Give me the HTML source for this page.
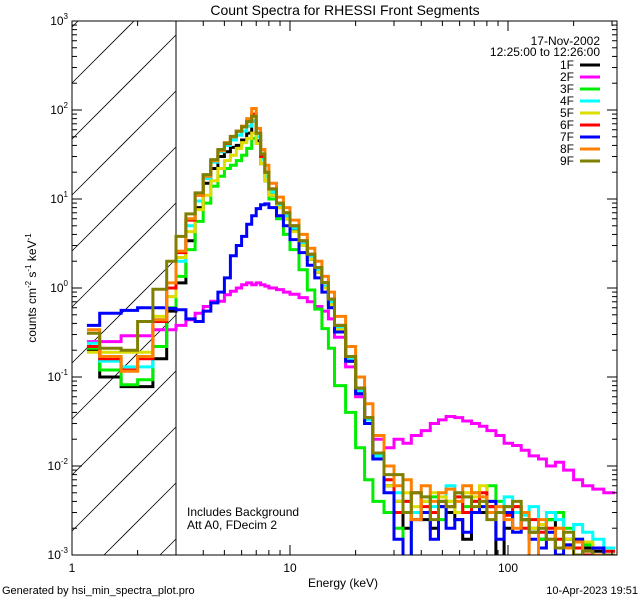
<!DOCTYPE html>
<html><head><meta charset="utf-8">
<style>
html,body{margin:0;padding:0;background:#fff;width:640px;height:600px;overflow:hidden;}
svg{display:block;font-family:"Liberation Sans",sans-serif;}
</style></head>
<body>
<svg id="chart" width="640" height="600" viewBox="0 0 640 600" xmlns="http://www.w3.org/2000/svg">
<rect x="0" y="0" width="640" height="600" fill="#fff"/>
<text x="345" y="15" font-size="14" text-anchor="middle">Count Spectra for RHESSI Front Segments</text>
<defs><clipPath id="plotclip"><rect x="72" y="21" width="545" height="534"/></clipPath></defs>
<g id="hatch"></g>
<line x1="176" y1="21" x2="176" y2="555" stroke="#000" stroke-width="1"/>
<g id="series" clip-path="url(#plotclip)"></g>
<rect x="72" y="21" width="545" height="534" fill="none" stroke="#000" stroke-width="1"/>
<g id="axes"></g>
<text x="343" y="587" font-size="12" text-anchor="middle">Energy (keV)</text>
<text transform="translate(36,288) rotate(-90)" font-size="12" text-anchor="middle">counts cm<tspan font-size="8" dy="-5">-2</tspan><tspan dy="5"> s</tspan><tspan font-size="8" dy="-5">-1</tspan><tspan dy="5"> keV</tspan><tspan font-size="8" dy="-5">-1</tspan></text>
<text x="187" y="516" font-size="12">Includes Background</text>
<text x="187" y="529" font-size="12">Att A0, FDecim 2</text>
<text x="600" y="45" font-size="12" text-anchor="end">17-Nov-2002</text>
<text x="600" y="56" font-size="12" text-anchor="end">12:25:00 to 12:26:00</text>
<g id="legend"></g>
<text x="2" y="594" font-size="11">Generated by hsi_min_spectra_plot.pro</text>
<text x="638" y="594" font-size="11" text-anchor="end">10-Apr-2023 19:51</text>
</svg>
<script>
const edges=[1.17,1.34,1.68,2.0,2.35,2.72,3.0,3.33,3.67,4.0,4.33,4.67,5.0,5.33,5.67,6.0,6.33,6.67,7.0,7.33,7.67,8.0,8.67,9.33,10,11,12,13,14,15,16,18,20,22,24,27,30,33,36,40,44,48,52,57,62,68,74,80,88,96,105,115,125,138,150,165,180,200,220,245,275,310];
const seriesNames=["1F","2F","3F","4F","5F","6F","7F","8F","9F"];
const seriesColors=["#000000","#ff00ff","#00ee00","#00ffff","#dddd00","#ff0000","#0000ff","#ff8000","#808000"];
const s1F=[0.2,0.1,0.078,0.078,0.16,0.55, 1.14,3.4,8,15,22,30,34,38,40,46,55,75,45,25,16, 11,8,6,4.4,3,2.1,1.5,1.0,0.65,0.33,0.15,0.065,0.03,0.012,0.006, .004,.002,.003,.0025,.002,.0035,.003,.0025,.0015,.004,.003,.0035,.0008,.002,.003,.0025,.0018,.0015,.0025,.0012,.0015,.001,.0012,.0011,.0009];
const s2F=[0.25,0.25,0.29,0.29,0.34,0.34, 0.38,0.44,0.52,0.62,0.71,0.71,0.84,0.92,1.0,1.09,1.14,1.09,1.14,1.09,1.05, 1.0,0.96,0.9,0.85,0.78,0.7,0.62,0.55,0.45,0.28,0.13,0.06,0.03,0.02,0.016, .02,.018,.022,.025,.03,.033,.036,.035,.032,.03,.028,.025,.022,.018,.017,.015,.013,.012,.01,.011,.009,.007,.006,.0055,.005];
const s3F=[0.21,0.12,0.082,0.093,0.22,0.6, 1.35,2.7,5.6,9,13.9,18,22,24,27,31,37,48,55,30,18, 10,6,4,2.7,1.6,0.95,0.58,0.35,0.21,0.08,0.04,0.016,0.007,0.004,0.003, .002,.0009,.003,.004,.0045,.0025,.004,.003,.0035,.005,.004,.006,.004,.0035,.003,.0025,.002,.0015,.0025,.003,.002,.0015,.0013,.0012,.001];
const s4F=[0.24,0.15,0.13,0.13,0.44,0.8, 2.0,5,9.5,17,26,34,40,46,52,58,66,75,50,28,18, 12,8.5,6.5,4.7,3.2,2.3,1.6,1.05,0.7,0.36,0.16,0.07,0.033,0.013,0.007, .005,.004,.003,.0045,.0035,.004,.006,.005,.0045,.004,.0035,.004,.003,.0045,.003,.0028,.0035,.002,.003,.0025,.0015,.0022,.0018,.0015,.0012];
const s5F=[0.19,0.19,0.19,0.19,0.48,0.8, 2.2,4.3,7.6,11,16,22,27,31,37,43,48,55,42,25,16, 11,8,6,4.3,3,2.1,1.5,1.0,0.65,0.34,0.15,0.065,0.03,0.012,0.006, .004,.005,.0035,.004,.005,.0045,.004,.003,.005,.0045,.006,.004,.0035,.003,.0035,.0025,.002,.0022,.0018,.002,.0015,.0012,.0014,.001,.001];
const s6F=[0.22,0.16,0.12,0.16,0.42,1.0, 2.5,5.8,11,18.5,27,35,42,50,58,65,75,90,55,30,20, 13,9,7,5,3.4,2.4,1.7,1.15,0.75,0.38,0.17,0.075,0.035,0.014,0.007, .003,.004,.005,.0035,.003,.004,.0035,.0045,.003,.004,.005,.0035,.003,.0028,.0035,.002,.0025,.0018,.002,.0015,.0013,.0012,.001,.0012,.0011];
const s7F=[0.38,0.52,0.56,0.6,0.6,0.59, 0.57,0.45,0.42,0.55,0.68,0.9,1.3,2.3,3.0,3.8,5.2,6.5,7.8,8.6,8.8, 8.0,6.5,5,3.5,2.5,1.8,1.3,0.9,0.6,0.32,0.15,0.065,0.03,0.012,0.005, .0015,.0009,.0025,.003,.0015,.0035,.002,.0025,.0018,.003,.0035,.004,.0015,.003,.0018,.0025,.0015,.0012,.0018,.001,.0013,.0015,.0009,.0012,.001];
const s8F=[0.34,0.17,0.116,0.17,0.44,1.14, 2.6,6.0,11,18,27,35,43,50,58,66,80,104,62,36,24, 15,10.5,8,5.8,4,2.8,2.0,1.35,0.9,0.48,0.22,0.1,0.05,0.022,0.01, .006,.007,.0025,.006,.004,.005,.0055,.004,.006,.005,.0045,.003,.0035,.0025,.002,.003,.0008,.0025,.0015,.002,.0012,.0014,.0009,.001,.001];
const s9F=[0.31,0.21,0.20,0.42,0.97,2.0, 3.8,6.8,11.7,18.8,27.7,36,42.5,50.5,57.6,65,74,85,55,32,20, 13,9,7,5,3.4,2.4,1.7,1.15,0.75,0.38,0.17,0.075,0.035,0.014,0.008, .008,.003,.005,.0045,.0025,.004,.0035,.005,.0045,.0035,.004,.0025,.003,.0035,.004,.0025,.0018,.002,.0015,.0012,.0018,.001,.0011,.0009,.001];
const seriesData=[s1F,s2F,s3F,s4F,s5F,s6F,s7F,s8F,s9F];
const xTickLabels=["1","10","100"];
const yTickExps=["3","2","1","0","-1","-2","-3"];

const NS="http://www.w3.org/2000/svg";
const X0=72,X1=617,Y0=21,Y1=555,DEC=218,YDEC=(Y1-Y0)/6;
function xs(e){return X0+DEC*Math.log10(e);}
function ys(v){return Y0+(3-Math.log10(v))*YDEC;}
function mk(tag,attrs,parent){const el=document.createElementNS(NS,tag);for(const k in attrs)el.setAttribute(k,attrs[k]);parent.appendChild(el);return el;}

const hatch=document.getElementById('hatch');
for(let i=-2;i<12;i++){
  const yb=83+56*i;
  const xa=Math.max(72,72+yb-Y1), xb=Math.min(176,72+yb-Y0);
  if(xb<=xa)continue;
  const l=mk('line',{x1:xa,y1:yb-(xa-72),x2:xb,y2:yb-(xb-72),stroke:'#000','stroke-width':0.8},hatch);
  
  
}

const sg=document.getElementById('series');
seriesData.forEach((vals,si)=>{
  let d='';
  for(let i=0;i<vals.length;i++){
    const xa=xs(edges[i]).toFixed(1),xb=xs(edges[i+1]).toFixed(1),y=Math.min(ys(vals[i]),Y1+8).toFixed(1);
    d+=(i===0?'M':'L')+xa+','+y+'L'+xb+','+y;
  }
  const p=mk('path',{d:d,fill:'none',stroke:seriesColors[si],'stroke-width':3,'stroke-linejoin':'miter'},sg);
  
  
});

const ax=document.getElementById('axes');
for(let dec=0;dec<3;dec++){
  for(let m=1;m<10;m++){
    const e=Math.pow(10,dec)*m; const x=xs(e); if(x>X1+0.5)break;
    const len=m===1?10:5;
    const t1=mk('line',{x1:x,y1:Y1,x2:x,y2:Y1-len,stroke:'#000'},ax);
    
    
    const t2=mk('line',{x1:x,y1:Y0,x2:x,y2:Y0+len,stroke:'#000'},ax);
    
    
  }
}
xTickLabels.forEach((lb,i)=>{
  const t=mk('text',{x:xs(Math.pow(10,i)),y:Y1+17,'font-size':12,'text-anchor':'middle'},ax);
  t.textContent=lb;
  
  
});
for(let p=-3;p<3;p++){
  for(let m=1;m<10;m++){
    const v=Math.pow(10,p)*m; const y=ys(v);
    const len=m===1?10:5;
    const a=mk('line',{x1:X0,y1:y,x2:X0+len,y2:y,stroke:'#000'},ax);
    
    
    const b=mk('line',{x1:X1,y1:y,x2:X1-len,y2:y,stroke:'#000'},ax);
    
    
  }
}
yTickExps.forEach(ex=>{
  const y=ys(Math.pow(10,+ex));
  const t=mk('text',{x:X0-4,y:y+4,'font-size':12,'text-anchor':'end'},ax);
  
  
  t.textContent='10';
  const s=mk('tspan',{'font-size':8,dy:-6},t);
  s.textContent=ex;
});

const lg=document.getElementById('legend');
seriesNames.forEach((n,i)=>{
  const y=65+12*i;
  const t=mk('text',{x:574,y:y+4,'font-size':12,'text-anchor':'end'},lg);
  t.textContent=n;
  
  
  const l=mk('line',{x1:580,y1:y,x2:600,y2:y,stroke:seriesColors[i],'stroke-width':3},lg);
  
  
});
</script>
</body></html>
